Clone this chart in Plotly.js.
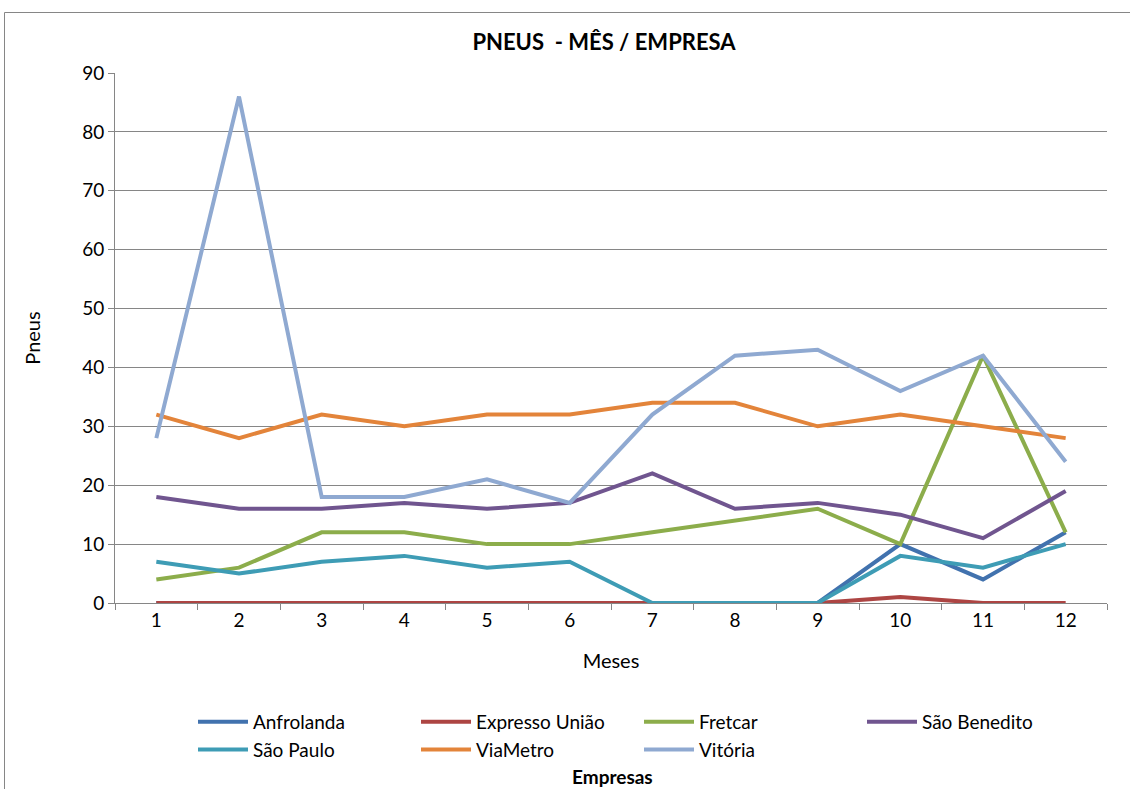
<!DOCTYPE html>
<html>
<head>
<meta charset="utf-8">
<script src="https://cdn.plot.ly/plotly-3.0.1.min.js"></script>
<style>html,body{margin:0;padding:0;background:#fff;}#chart{width:1130px;height:789px;}</style>
</head>
<body>
<div id="chart"></div>
<script>
const months = ['1','2','3','4','5','6','7','8','9','10','11','12'];
const anfrolanda    = [0,0,0,0,0,0,0,0,0,10,4,12];
const expressoUniao = [0,0,0,0,0,0,0,0,0,1,0,0];
const fretcar       = [4,6,12,12,10,10,12,14,16,10,42,12];
const saoBenedito   = [18,16,16,17,16,17,22,16,17,15,11,19];
const saoPaulo      = [7,5,7,8,6,7,0,0,0,8,6,10];
const viaMetro      = [32,28,32,30,32,32,34,34,30,32,30,28];
const vitoria       = [28,86,18,18,21,17,32,42,43,36,42,24];
const seriesNames  = ['Anfrolanda','Expresso União','Fretcar','São Benedito','São Paulo','ViaMetro','Vitória'];
const seriesData   = [anfrolanda, expressoUniao, fretcar, saoBenedito, saoPaulo, viaMetro, vitoria];
const seriesColors = ['#4172AE','#AD4543','#8CAD4B','#70558F','#3E9CB5','#E3843A','#8FA9D1'];

const font = 'Lato, "Open Sans", sans-serif';
const traces = seriesNames.map((n,i)=>({
  type:'scatter', mode:'lines', name:n, x:months, y:seriesData[i],
  line:{color:seriesColors[i], width:4}
}));

const L=115, R=1107, T=73, B=603, W=1130, H=789;
const px = v => (v-L)/(R-L);
const py = v => (B-v)/(B-T);

const layout = {
  width:W, height:H,
  margin:{l:L, r:W-R, t:T, b:H-B},
  paper_bgcolor:'#fff', plot_bgcolor:'#fff',
  font:{family:font, size:19, color:'#000'},
  showlegend:true,
  title:{text:'<b>PNEUS  - MÊS / EMPRESA</b>', font:{family:font, size:22, color:'#000'}, x:px(604), xanchor:'center', xref:'paper', y:1-42/H, yanchor:'middle', automargin:false},
  xaxis:{type:'category', tickson:'boundaries', ticks:'outside', ticklen:6, tickcolor:'#868686',
    showline:true, linecolor:'#868686', linewidth:1, showgrid:false, zeroline:false, automargin:false,
    tickfont:{family:font, size:19}, range:[-0.5,11.5],
    title:{text:'Meses', font:{family:font, size:20}, standoff:24}},
  yaxis:{range:[0,90], dtick:10, tick0:0, ticks:'outside', ticklen:6, tickcolor:'#868686',
    showline:true, linecolor:'#868686', linewidth:1, showgrid:true, gridcolor:'#868686', gridwidth:1,
    zeroline:false, automargin:false, tickfont:{family:font, size:19},
    title:{text:'Pneus', font:{family:font, size:20}, standoff:36}},
  legend:{orientation:'h', x:px(193), xanchor:'left', y:py(703), yanchor:'top',
    entrywidth:158, entrywidthmode:'pixels', itemwidth:50, tracegroupgap:0,
    font:{family:font, size:19}, bgcolor:'rgba(0,0,0,0)'},
  annotations:[{text:'<b>Empresas</b>', xref:'paper', yref:'paper', x:px(612), y:py(776),
    xanchor:'center', yanchor:'middle', showarrow:false, font:{family:font, size:19, color:'#000'}}],
  shapes:[{type:'rect', xref:'paper', yref:'paper', x0:px(4.5), x1:px(1135), y0:py(12.5), y1:py(800),
    line:{color:'#868686', width:1}, fillcolor:'rgba(0,0,0,0)', layer:'below'}]
};

Plotly.newPlot('chart', traces, layout, {displayModeBar:false, staticPlot:true});
</script>
</body>
</html>
